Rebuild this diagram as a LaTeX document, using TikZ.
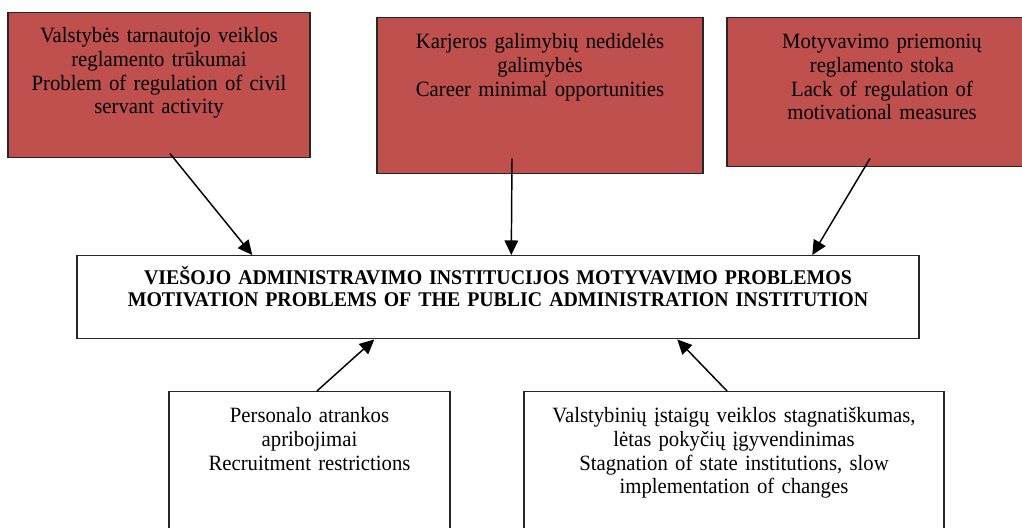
\documentclass[tikz,border=0pt]{standalone}
\usepackage{fontspec}
\setmainfont{Liberation Serif}[FakeStretch=0.95]
\usepackage{tikz}
\usetikzlibrary{arrows.meta}

\definecolor{boxred}{HTML}{C0504D}

\begin{document}
\begin{tikzpicture}[
  x=0.55pt, y=-0.55pt,
  rnode/.style={draw=black!85,line width=0.8pt,fill=boxred,anchor=north,align=center,
    inner sep=0pt,font=\fontsize{12pt}{13pt}\selectfont},
  wnode/.style={draw=black!85,line width=0.8pt,fill=white,anchor=north,align=center,
    inner sep=0pt,font=\fontsize{12pt}{13pt}\selectfont},
  mnode/.style={draw=black!85,line width=0.8pt,fill=white,anchor=north,align=center,
    inner sep=0pt,font=\fontsize{11.5pt}{12.1pt}\selectfont\bfseries}
]
  \path[use as bounding box,clip] (0,0) rectangle (1022,527);

  % causes
  \node[rnode,text width=166.1pt,text height=16.5pt,text depth=63.25pt] (regul) at (159,12)
    {Valstybės tarnautojo veiklos\\reglamento trūkumai\\Problem of regulation of civil\\servant activity};
  \node[rnode,text width=179.3pt,text height=17.05pt,text depth=68.75pt] (career) at (540,17)
    {Karjeros galimybių nedidelės\\galimybės\\Career minimal opportunities};
  \node[rnode,text width=170.5pt,text height=17.05pt,text depth=64.9pt] (motiv) at (882,17)
    {Motyvavimo priemonių\\reglamento stoka\\Lack of regulation of\\motivational measures};

  % problem
  \node[mnode,text width=463.1pt,text height=15.95pt,text depth=29.7pt] (probl) at (498,255)
    {VIEŠOJO ADMINISTRAVIMO INSTITUCIJOS MOTYVAVIMO PROBLEMOS\\MOTIVATION PROBLEMS OF THE PUBLIC ADMINISTRATION INSTITUTION};

  % other causes
  \node[wnode,text width=154.55pt,text height=17.05pt,text depth=67.65pt] (recruit) at (309.5,391)
    {Personalo atrankos\\apribojimai\\Recruitment restrictions};
  \node[wnode,text width=231pt,text height=17.05pt,text depth=67.65pt] (stagn) at (734,391)
    {Valstybinių įstaigų veiklos stagnatiškumas,\\lėtas pokyčių įgyvendinimas\\Stagnation of state institutions, slow\\implementation of changes};

  % edges
  \draw[line width=0.8pt,-{Triangle[length=8pt,width=7.5pt]}] ([xshift=6pt,yshift=2.75pt]regul.south) -- ([xshift=96.8pt]probl.north west);
  \draw[line width=0.8pt,-{Triangle[length=8pt,width=7.5pt]}] ([xshift=-15.4pt,yshift=8.8pt]career.south) -- ([xshift=239.25pt]probl.north west);
  \draw[line width=0.8pt,-{Triangle[length=8pt,width=7.5pt]}] ([xshift=-6.6pt,yshift=4.95pt]motiv.south) -- ([xshift=404.8pt]probl.north west);
  \draw[line width=0.8pt,-{Triangle[length=8pt,width=7.5pt]}] ([xshift=4.1pt]recruit.north) -- ([xshift=163.9pt]probl.south west);
  \draw[line width=0.8pt,-{Triangle[length=8pt,width=7.5pt]}] ([xshift=-3.85pt]stagn.north) -- ([xshift=330.55pt]probl.south west);
\end{tikzpicture}
\end{document}
